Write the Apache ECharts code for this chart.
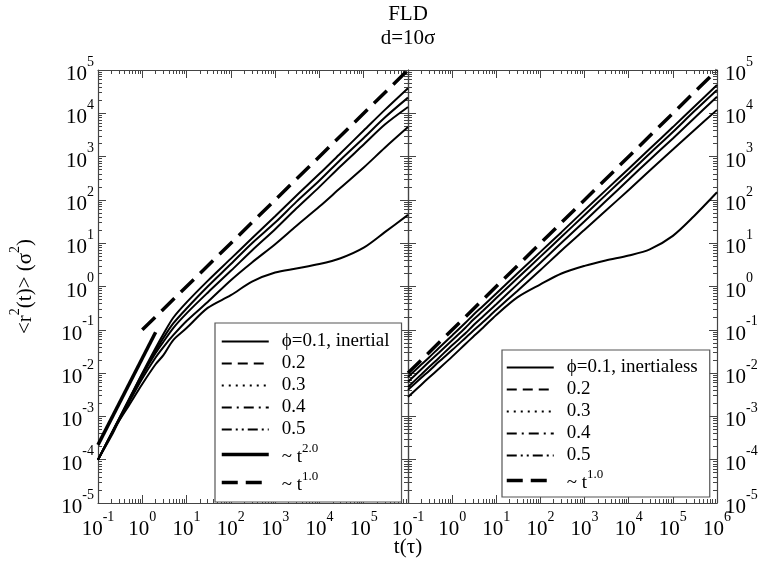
<!DOCTYPE html>
<html><head><meta charset="utf-8">
<script src="https://cdn.jsdelivr.net/npm/echarts@6/dist/echarts.min.js"></script>
<style>html,body{margin:0;padding:0;background:#fff}#c{width:769px;height:564px}</style>
</head><body><div id="c"></div>
<script>
// ---------- data ----------
const tVals = [0.1,0.2,0.3,0.5,1,2,3,5,10,30,100,300,1e3,3e3,1e4,3e4,1e5,3e5,1e6];

// inertial (left panel)
const inertial01 = [1.0e-4,4.0e-4,9.0e-4,2.5e-3,1.0e-2,3.8e-2,8.0e-2,0.19,0.43,1.35,4.4,13,42,125,400,1200,4000,1.2e4,3.8e4];
const inertial02 = [1.0e-4,4.0e-4,8.8e-4,2.4e-3,9.5e-3,3.3e-2,6.5e-2,0.14,0.31,1.0,3.3,10,30,90,280,850,2700,8000,2.3e4];
const inertial03 = [1.0e-4,3.9e-4,8.5e-4,2.3e-3,8.8e-3,2.9e-2,5.3e-2,0.11,0.24,0.72,2.3,6.8,21,63,200,600,1900,5500,1.4e4];
const inertial04 = [1.0e-4,3.8e-4,8.0e-4,2.1e-3,7.5e-3,2.3e-2,4.0e-2,7.5e-2,0.16,0.44,1.4,3.6,9.5,25,70,190,560,1600,4800];
const inertial05 = [1.0e-4,3.5e-4,7.9e-4,1.8e-3,5.6e-3,1.6e-2,2.6e-2,5.8e-2,0.11,0.32,0.63,1.3,2.1,2.6,3.3,4.5,7.9,18,45];

// inertialless (right panel)
const noinert01 = [8.1e-3,1.58e-2,2.3e-2,3.8e-2,7.4e-2,0.145,0.22,0.355,0.69,2.0,6.3,18,58,166,525,1510,4800,1.4e4,4.5e4];
const noinert02 = [6.3e-3,1.23e-2,1.82e-2,2.95e-2,5.75e-2,0.112,0.17,0.275,0.54,1.55,4.9,14.1,44.7,129,407,1175,3700,1.1e4,3.47e4];
const noinert03 = [4.8e-3,9.3e-3,1.38e-2,2.24e-2,4.4e-2,8.3e-2,0.126,0.204,0.39,1.12,3.55,10.2,32,93,295,850,2630,7600,2.4e4];
const noinert04 = [4.1e-3,7.8e-3,1.12e-2,1.82e-2,3.4e-2,6.5e-2,9.5e-2,0.151,0.29,0.79,2.4,6.8,20.4,56,170,480,1450,4000,1.2e4];
const noinert05 = [2.8e-3,5.4e-3,7.9e-3,1.26e-2,2.4e-2,4.7e-2,6.9e-2,0.112,0.22,0.56,1.12,2.0,3.0,4.0,5.2,7.2,14.8,42,150];

// guide lines
const t2Left = [[0.1, 2.2e-4], [2, 0.088]];
const t1Left = [[1, 0.1], [1e6, 1e5]];
const t1Right = [[0.1, 0.01], [1e6, 1e5]];

// ticks
const xMajor = [0.1,1,10,100,1e3,1e4,1e5,1e6];
const xMajorLabelsLeft = [0.1,1,10,100,1e3,1e4,1e5];
const yMajor = [1e-5,1e-4,1e-3,1e-2,1e-1,1,10,100,1e3,1e4,1e5];
const minorMult = [2,3,4,5,6,7,8,9];

// legend texts
const legendLeft = ['ϕ=0.1, inertial','0.2','0.3','0.4','0.5','~ t^2.0','~ t^1.0'];
const legendRight = ['ϕ=0.1, inertialess','0.2','0.3','0.4','0.5','~ t^1.0'];

// ---------- build ----------
const FONT = 'Liberation Serif';
const AX = '#444';
function minorOf(major){ const out=[]; for(let i=0;i<major.length-1;i++){ for(const k of minorMult) out.push(major[i]*k);} return out; }

const tickRich = {
  b:{fontFamily:FONT,fontSize:21,color:'#000',lineHeight:30,verticalAlign:'bottom'},
  s:{fontFamily:FONT,fontSize:14,color:'#000',lineHeight:14,verticalAlign:'top'}
};
function fmtPow(v){ const e=Math.round(Math.log10(v)); return '{b|10}{s|'+e+'}'; }

function mkAxis(kind, grid, pos, major, labelVals, extentMin, extentMax){
  const isMajor = kind==='major';
  const vals = isMajor ? major : minorOf(major);
  const o = {
    type:'log', logBase:10, gridIndex:grid, position:pos, min:extentMin, max:extentMax,
    axisLine:{show:isMajor, onZero:false, lineStyle:{color:AX,width:1.2}},
    axisTick:{show:true, inside:true, length:isMajor?8:4, customValues:vals, lineStyle:{color:AX,width:1}},
    axisLabel:{show:false},
    splitLine:{show:false}, minorTick:{show:false}, minorSplitLine:{show:false}
  };
  if(labelVals){
    o.axisLabel = {show:true, customValues:labelVals, formatter:fmtPow, rich:tickRich, margin:7, fontFamily:FONT, showMinLabel:true, showMaxLabel:true, hideOverlap:false};
  }
  return o;
}

const xAxes = [
  mkAxis('major',0,'bottom',xMajor,xMajorLabelsLeft,0.1,1e6),
  mkAxis('minor',0,'bottom',xMajor,null,0.1,1e6),
  mkAxis('major',0,'top',xMajor,null,0.1,1e6),
  mkAxis('minor',0,'top',xMajor,null,0.1,1e6),
  mkAxis('major',1,'bottom',xMajor,xMajor,0.1,1e6),
  mkAxis('minor',1,'bottom',xMajor,null,0.1,1e6),
  mkAxis('major',1,'top',xMajor,null,0.1,1e6),
  mkAxis('minor',1,'top',xMajor,null,0.1,1e6)
];
const yAxes = [
  mkAxis('major',0,'left',yMajor,yMajor,1e-5,1e5),
  mkAxis('minor',0,'left',yMajor,null,1e-5,1e5),
  mkAxis('major',0,'right',yMajor,null,1e-5,1e5),
  mkAxis('minor',0,'right',yMajor,null,1e-5,1e5),
  mkAxis('major',1,'left',yMajor,null,1e-5,1e5),
  mkAxis('minor',1,'left',yMajor,null,1e-5,1e5),
  mkAxis('major',1,'right',yMajor,yMajor,1e-5,1e5),
  mkAxis('minor',1,'right',yMajor,null,1e-5,1e5)
];
yAxes[0].axisLabel.margin = 4;
yAxes[6].axisLabel.margin = 8;
yAxes[0].name = '{b|<r}{s|2}{b|(t)> (σ}{s|2}{b|)}';
yAxes[0].nameLocation = 'middle';
yAxes[0].nameGap = 62;
yAxes[0].nameRotate = 90;
yAxes[0].nameTextStyle = {fontFamily:FONT, fontSize:21, color:'#000', rich:{
  b:{fontFamily:FONT,fontSize:21,color:'#000',lineHeight:28,verticalAlign:'bottom'},
  s:{fontFamily:FONT,fontSize:14,color:'#000',lineHeight:14,verticalAlign:'top'}}};

function ser(name, xs, ys, xi, yi, width, type){
  return {name, type:'line', xAxisIndex:xi, yAxisIndex:yi, symbol:'none', showSymbol:false, smooth:0.3,
    lineStyle:{color:'#000', width:width, type:type||'solid'}, itemStyle:{color:'#000'},
    data: xs.map((t,i)=>[t, ys[i]]), z:3};
}
function serPts(name, pts, xi, yi, width, type){
  return {name, type:'line', xAxisIndex:xi, yAxisIndex:yi, symbol:'none', showSymbol:false,
    lineStyle:{color:'#000', width:width, type:type||'solid'}, itemStyle:{color:'#000'}, data:pts, z:3};
}

const series = [
  ser('L1',tVals,inertial01,0,0,2),
  ser('L2',tVals,inertial02,0,0,2),
  ser('L3',tVals,inertial03,0,0,2),
  ser('L4',tVals,inertial04,0,0,2),
  ser('L5',tVals,inertial05,0,0,2),
  serPts('Lt2',t2Left,0,0,3.5),
  serPts('Lt1',t1Left,0,0,3.5,[18,9]),
  ser('R1',tVals,noinert01,4,4,2),
  ser('R2',tVals,noinert02,4,4,2),
  ser('R3',tVals,noinert03,4,4,2),
  ser('R4',tVals,noinert04,4,4,2),
  ser('R5',tVals,noinert05,4,4,2),
  serPts('Rt1',t1Right,4,4,3.5,[18,9])
];

const nameMap = {};
['L1','L2','L3','L4','L5','Lt2','Lt1'].forEach((n,i)=>nameMap[n]=legendLeft[i]);
['R1','R2','R3','R4','R5','Rt1'].forEach((n,i)=>nameMap[n]=legendRight[i]);
function legendFmt(name){
  const s = nameMap[name];
  const k = s.indexOf('^');
  if(k<0) return '{p|'+s+'}';
  return '{q|'+s.slice(0,k)+'}{s|'+s.slice(k+1)+'}';
}
const legendRich = {
  p:{fontFamily:FONT,fontSize:19,color:'#000',lineHeight:19,padding:[0,0,0,8]},
  q:{fontFamily:FONT,fontSize:19,color:'#000',lineHeight:25,verticalAlign:'bottom',padding:[0,0,0,8]},
  s:{fontFamily:FONT,fontSize:13,color:'#000',lineHeight:13,verticalAlign:'top'}
};
const styles = [
  {type:'solid',width:2},{type:[10,6],width:2},{type:[2,5],width:2},{type:[10,5,2,5],width:2},{type:[10,4,2,4,2,4],width:2}
];
const hiddenSym = {color:'rgba(0,0,0,0)', borderColor:'rgba(0,0,0,0)', borderWidth:0, opacity:0};
function legendData(names, extra){
  return names.map((n,i)=>({name:n, itemStyle:hiddenSym,
    lineStyle: Object.assign({color:'#000', opacity:1}, i<5 ? styles[i] : extra[i-5])}));
}
const legends = [
  {orient:'vertical', left:215, top:323, itemWidth:47, itemHeight:14, itemGap:3,
   padding:[9,12,7,5], borderColor:'#555', borderWidth:1.2, backgroundColor:'#fff',
   data: legendData(['L1','L2','L3','L4','L5','Lt2','Lt1'], [{type:'solid',width:3.5},{type:[16,8],width:3.5}]),
   formatter:legendFmt, textStyle:{fontFamily:FONT,fontSize:19,color:'#000',rich:legendRich}, selectedMode:false},
  {orient:'vertical', left:502, top:350, itemWidth:47, itemHeight:14, itemGap:3,
   padding:[8,12,4,3], borderColor:'#555', borderWidth:1.2, backgroundColor:'#fff',
   data: legendData(['R1','R2','R3','R4','R5','Rt1'], [{type:[16,8],width:3.5}]),
   formatter:legendFmt, textStyle:{fontFamily:FONT,fontSize:19,color:'#000',rich:legendRich}, selectedMode:false}
];

const option = {
  animation:false,
  backgroundColor:'#fff',
  title:[
    {text:'FLD', subtext:'d=10σ', left:408, textAlign:'center', top:4, itemGap:3, padding:0,
     textStyle:{fontFamily:FONT,fontSize:21,fontWeight:'normal',color:'#000'},
     subtextStyle:{fontFamily:FONT,fontSize:21,color:'#000'}},
    {text:'t(τ)', left:408, textAlign:'center', top:537, padding:0,
     textStyle:{fontFamily:FONT,fontSize:21,fontWeight:'normal',color:'#000'}}
  ],
  grid:[
    {left:98, top:70, width:310, height:433},
    {left:408, top:70, width:309, height:433}
  ],
  legend: legends,
  xAxis: xAxes,
  yAxis: yAxes,
  series
};
const chart = echarts.init(document.getElementById('c'), null, {renderer:'canvas'});
chart.setOption(option);
</script></body></html>
